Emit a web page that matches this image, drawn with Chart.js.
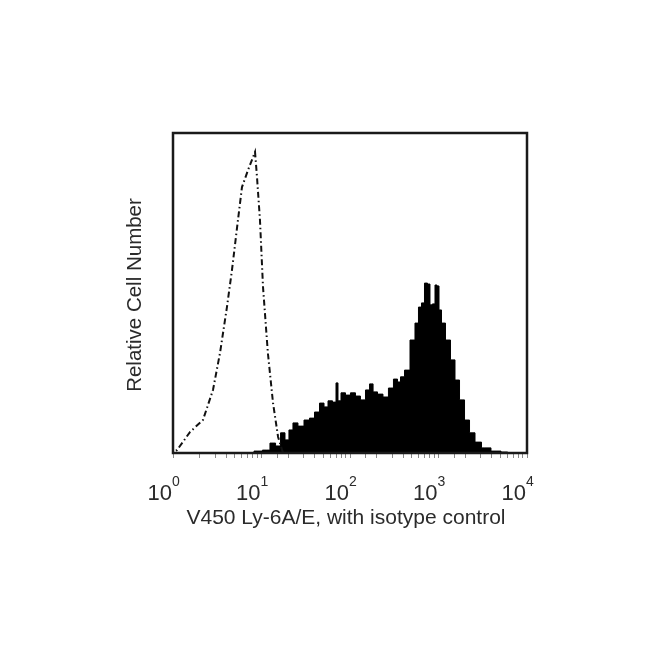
<!DOCTYPE html>
<html>
<head>
<meta charset="utf-8">
<script src="https://cdn.jsdelivr.net/npm/chart.js@4/dist/chart.umd.min.js"></script>
<style>
    html, body { margin: 0; padding: 0; background: #fff; }
    #wrap { width: 650px; height: 650px; }
</style>
</head>
<body>
<div id="wrap"><canvas id="facsChart" width="650" height="650"></canvas></div>
<script>
// 染色サンプル(塗りつぶし)の蛍光強度と相対細胞数
var stainedX = [7.41, 9.12, 11.5, 13.5, 15.4, 17.5, 19.4, 21.5, 23.9, 27.9, 32.7, 37.2, 42.4, 48.3, 53.6,
    59.4, 67.7, 71.3, 75.1, 83.3, 94.9, 108, 123, 140, 160, 173, 192, 218, 255, 290, 331, 358, 387, 441,
    515, 571, 618, 668, 722, 781, 822, 889, 937, 987, 1040, 1124, 1280, 1458, 1618, 1845, 2100, 2392,
    2795, 3350, 4580, 5640, 6500];
var stainedY = [0, 0.6, 0.9, 3.1, 2.2, 6.3, 4.1, 7.2, 9.4, 8.4, 10.3, 10.9, 12.8, 15.6, 14.4,
    16.3, 15.9, 21.9, 16.3, 18.8, 18.1, 18.8, 17.8, 16.6, 19.7, 21.6, 19.1, 18.4, 17.5, 20.3, 23.1, 22.2, 23.8, 25.9,
    35.3, 40.6, 45.6, 46.9, 53.1, 52.8, 46.3, 46.6, 52.5, 52.2, 44.7, 40.6, 35.3, 29.1, 22.8, 16.6, 10.3, 6.3,
    3.4, 1.6, 0.6, 0.3, 0];

// アイソタイプコントロール(一点鎖線)
var isotypeX = [1, 1, 1.11, 1.56, 2.18, 2.83, 3.40, 4.07, 4.64, 5.42, 6.02, 7.04, 8.45, 8.89, 9.61, 10.4, 11.8, 13.5, 15.4, 17.5];
var isotypeY = [48.8, 0.5, 0.9, 6.6, 10.3, 19.7, 31.3, 45.6, 57.2, 72.8, 83.1, 88.4, 94.1, 86.3, 72.8, 51.9, 31.3, 15.6, 5.0, 0];

// 目盛りラベル (10^n)
var tickExponents = [0, 1, 2, 3, 4];
var xTitle = 'V450 Ly-6A/E, with isotype control';
var yTitle = 'Relative Cell Number';

function toPoints(xs, ys) {
    return xs.map(function (x, i) { return { x: x, y: ys[i] }; });
}

var FONT = '"Liberation Sans", Arial, sans-serif';

var labelPlugin = {
    id: 'facsLabels',
    afterDraw: function (chart) {
        var ctx = chart.ctx;
        var area = chart.chartArea;
        var xs = chart.scales.x;
        ctx.save();
        // 枠線
        ctx.strokeStyle = '#1a1a1a';
        ctx.lineWidth = 2.5;
        ctx.strokeRect(area.left, area.top, area.right - area.left, area.bottom - area.top);

        // 目盛りラベル
        ctx.fillStyle = '#2b2b2b';
        ctx.textBaseline = 'alphabetic';
        tickExponents.forEach(function (e) {
            var px = xs.getPixelForValue(Math.pow(10, e));
            ctx.font = '22px ' + FONT;
            ctx.textAlign = 'right';
            ctx.fillText('10', px - 1, 500);
            ctx.font = '14px ' + FONT;
            ctx.textAlign = 'left';
            ctx.fillText(String(e), px - 1, 486);
        });

        // 軸タイトル
        ctx.font = '21px ' + FONT;
        ctx.textAlign = 'center';
        ctx.fillText(xTitle, (area.left + area.right) / 2 - 4, 524);

        ctx.font = '20.5px ' + FONT;
        ctx.translate(141, (area.top + area.bottom) / 2 + 2);
        ctx.rotate(-Math.PI / 2);
        ctx.fillText(yTitle, 0, 0);
        ctx.restore();
    }
};

var ctx = document.getElementById('facsChart').getContext('2d');
var facsChart = new Chart(ctx, {
    type: 'line',
    data: {
        datasets: [{
            label: 'isotype',
            data: toPoints(isotypeX, isotypeY),
            borderColor: '#111',
            borderWidth: 2,
            borderDash: [6, 3, 1.5, 3],
            pointRadius: 0,
            fill: false,
            tension: 0
        }, {
            label: 'Ly-6A/E',
            data: toPoints(stainedX, stainedY),
            borderColor: '#000',
            backgroundColor: '#000',
            borderWidth: 1,
            pointRadius: 0,
            fill: 'origin',
            stepped: 'middle',
            tension: 0
        }]
    },
    options: {
        responsive: false,
        animation: false,
        layout: { padding: { left: 173, right: 123, top: 133, bottom: 197 } },
        plugins: { legend: { display: false }, tooltip: { enabled: false } },
        scales: {
            x: {
                type: 'logarithmic',
                min: 1,
                max: 10000,
                afterFit: function (s) { s.height = 0; },
                border: { display: false },
                grid: { drawOnChartArea: false, drawTicks: true, tickLength: 5, tickColor: '#888', tickWidth: 1 },
                ticks: { display: false }
            },
            y: {
                display: false,
                min: 0,
                max: 100
            }
        }
    },
    plugins: [labelPlugin]
});
</script>
</body>
</html>
